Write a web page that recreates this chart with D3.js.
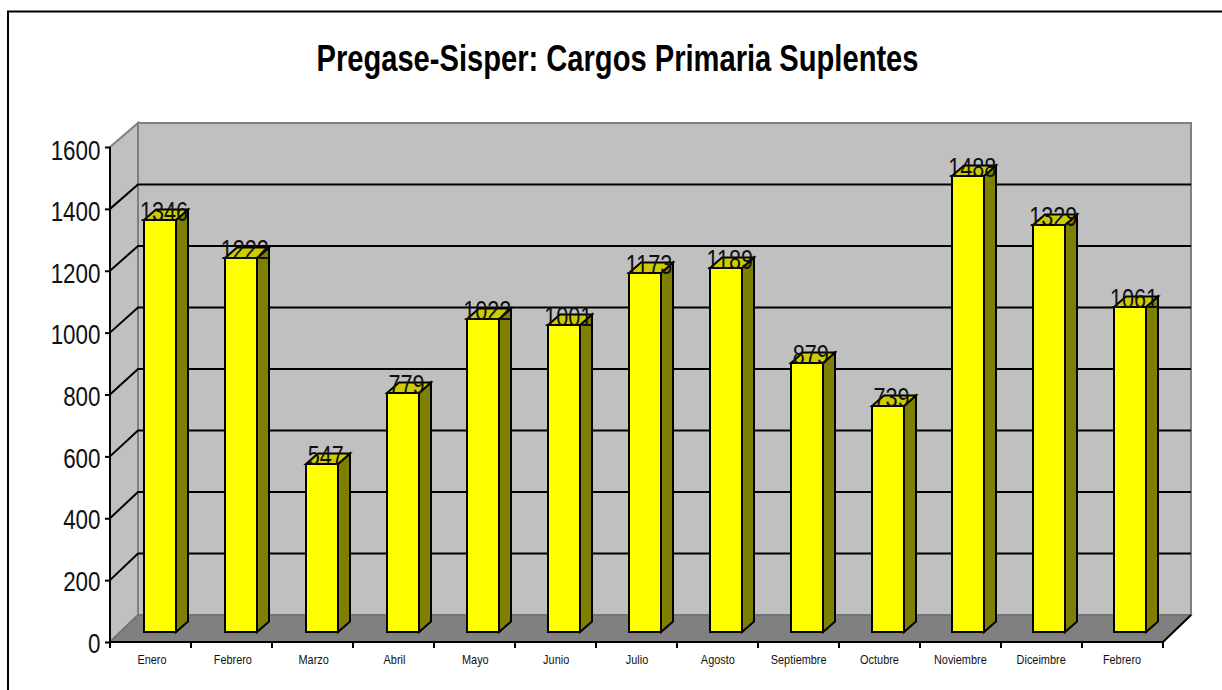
<!DOCTYPE html>
<html><head><meta charset="utf-8">
<script src="https://cdn.jsdelivr.net/npm/d3@7"></script>
<style>html,body{margin:0;padding:0;background:#fff}svg{display:block}text{font-family:"Liberation Sans",Arial,sans-serif}</style>
</head><body><svg id="c" width="1222" height="690"></svg>
<script>
const categories=["Enero","Febrero","Marzo","Abril","Mayo","Junio","Julio","Agosto","Septiembre","Octubre","Noviembre","Diceimbre","Febrero"];
const values=[1346,1222,547,779,1022,1001,1173,1189,879,739,1488,1329,1061];
const yTicks=[0,200,400,600,800,1000,1200,1400,1600];
const titleText="Pregase-Sisper: Cargos Primaria Suplentes";

const svg=d3.select("#c");
const front={x0:110,x1:1163,y0:642,y1:147};
const back={x0:138,x1:1191,y0:615,y1:123};
const yF=d3.scaleLinear().domain([0,1600]).range([front.y0,front.y1]);
const yB=d3.scaleLinear().domain([0,1600]).range([back.y0,back.y1]);
const yBar=d3.scaleLinear().domain([0,1600]).range([632,142]);
const yLabel=d3.scaleLinear().domain([0,1600]).range([642.5,149.5]);
const xF=d3.scaleBand().domain(d3.range(categories.length)).range([front.x0,front.x1]);
const xBar=d3.scalePoint().domain(d3.range(categories.length)).range([144,1114]);
const bw=32, dx=12, dy=10.5, sx=0.83;
const P=a=>a.map(p=>p.join(",")).join(" ");

svg.append("rect").attr("x",8).attr("y",11.5).attr("width",1300).attr("height",800).attr("fill","#fff").attr("stroke","#000").attr("stroke-width",2);
svg.append("text").attr("x",617.5).attr("y",71).attr("text-anchor","middle").attr("font-size",36).attr("font-weight","bold")
 .attr("textLength",602).attr("lengthAdjust","spacingAndGlyphs").text(titleText);

// walls
svg.append("polygon").attr("points",P([[back.x0,back.y1],[back.x1,back.y1],[back.x1,back.y0],[back.x0,back.y0]])).attr("fill","#c0c0c0").attr("stroke","#808080").attr("stroke-width",2);
svg.append("polygon").attr("points",P([[front.x0,front.y1],[back.x0,back.y1],[back.x0,back.y0],[front.x0,front.y0]])).attr("fill","#c0c0c0").attr("stroke","#808080").attr("stroke-width",2);
svg.append("polygon").attr("points",P([[front.x0,front.y0],[back.x0,back.y0],[back.x1,back.y0],[front.x1,front.y0]])).attr("fill","#808080").attr("stroke","#707070").attr("stroke-width",1.5);

// gridlines
yTicks.filter(d=>d>0&&d<1600).forEach(d=>{
  svg.append("path").attr("d",`M${front.x0},${yF(d)}L${back.x0},${yB(d)}L${back.x1},${yB(d)}`).attr("fill","none").attr("stroke","#000").attr("stroke-width",2);
});

// axes
svg.append("path").attr("d",`M${front.x0},${front.y1}V${front.y0}H${front.x1}L${back.x1},${back.y0}`).attr("fill","none").attr("stroke","#000").attr("stroke-width",2);
const yAxis=d3.axisLeft(yF).tickValues(yTicks).tickSize(5).tickFormat("");
const gy=svg.append("g").attr("transform",`translate(${front.x0},0)`).call(yAxis);
gy.select(".domain").remove();
gy.selectAll("line").attr("stroke","#000").attr("stroke-width",2);
svg.append("g").selectAll("text").data(yTicks).join("text")
 .attr("transform",d=>`translate(100.5,${yLabel(d)+10}) scale(${sx},1)`).attr("text-anchor","end")
 .attr("font-size",27).attr("fill","#111").text(d=>d);

const gx=svg.append("g");
xF.domain().forEach(i=>{gx.append("line").attr("x1",xF(i)).attr("x2",xF(i)).attr("y1",front.y0).attr("y2",front.y0+6).attr("stroke","#000").attr("stroke-width",2);});
gx.append("line").attr("x1",front.x1).attr("x2",front.x1).attr("y1",front.y0).attr("y2",front.y0+6).attr("stroke","#000").attr("stroke-width",2);
gx.selectAll("text").data(categories).join("text")
 .attr("transform",(d,i)=>`translate(${xBar(i)+8},664) scale(0.84,1)`).attr("text-anchor","middle").attr("font-size",13).attr("fill","#111").text(d=>d);

// bars
const bars=svg.append("g").selectAll("g").data(values).join("g");
bars.each(function(v,i){
  const g=d3.select(this), x=Math.round(xBar(i)), t=Math.round(yBar(v)), b=yBar(0);
  g.append("polygon").attr("points",P([[x+bw,t],[x+bw+dx,t-dy],[x+bw+dx,b-dy],[x+bw,b]])).attr("fill","#808000");
  g.append("polygon").attr("points",P([[x,t],[x+dx,t-dy],[x+bw+dx,t-dy],[x+bw,t]])).attr("fill","#cccc00");
  g.append("rect").attr("x",x).attr("y",t).attr("width",bw).attr("height",b-t).attr("fill","#ffff00");
  g.selectAll("polygon,rect").attr("stroke","#000").attr("stroke-width",2).attr("stroke-linejoin","miter");
});
svg.append("g").selectAll("text").data(values).join("text")
 .attr("transform",(d,i)=>`translate(${xBar(i)+bw/2+4},${yBar(d)+1}) scale(0.8,1)`).attr("text-anchor","middle")
 .attr("font-size",27).attr("fill","#111").text(d=>d);
</script></body></html>
